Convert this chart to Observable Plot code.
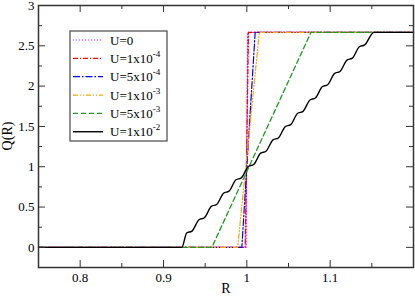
<!DOCTYPE html>
<html><head><meta charset="utf-8">
<script src="https://cdn.jsdelivr.net/npm/d3@7"></script>
<script src="https://cdn.jsdelivr.net/npm/@observablehq/plot@0.6"></script>
<style>body{margin:0;background:#fff}#chart{width:415px;height:296px}
svg text{font-family:"Liberation Serif","Times New Roman","DejaVu Serif",serif !important}</style>
</head><body><div id="chart"></div>
<script>
// ---- data ----
const xDomain = [0.75, 1.2];
const yDomain = [-0.25, 3];
const xTicks = [0.8, 0.9, 1.0, 1.1];
const xMinor = [0.85, 0.95, 1.05, 1.15];
const yTicks = [0, 0.5, 1, 1.5, 2, 2.5, 3];
const yMinor = [0.25, 0.75, 1.25, 1.75, 2.25, 2.75];

const labelBase = ["U=0", "U=1x10", "U=5x10", "U=1x10", "U=5x10", "U=1x10"];
const labelExp  = ["", "-4", "-4", "-3", "-3", "-2"];

const rU0 = [0.75, 0.999, 1.001, 1.2];
const qU0 = [0, 0, 2.667, 2.667];
const rU1 = [0.75, 0.998, 1.002, 1.2];
const qU1 = [0, 0, 2.667, 2.667];
const rU2 = [0.75, 0.994, 1.010, 1.2];
const qU2 = [0, 0, 2.667, 2.667];
const rU3 = [0.75, 0.989, 1.015, 1.2];
const qU3 = [0, 0, 2.667, 2.667];
const rU4 = [0.75, 0.958, 1.077, 1.2];
const qU4 = [0, 0, 2.667, 2.667];
const rU5 = [0.75, 0.922,
  0.9278, 0.9342, 0.9426, 0.949, 0.9574, 0.9638, 0.9722, 0.9786, 0.987, 0.9934,
  1.0018, 1.0082, 1.0166, 1.023, 1.0314, 1.0378, 1.0462, 1.0526, 1.061, 1.0674,
  1.0758, 1.0822, 1.0906, 1.097, 1.1054, 1.1118, 1.1202, 1.1266, 1.135, 1.1414,
  1.1525, 1.2];
const qU5 = [0, 0,
  0.178, 0.202, 0.343, 0.367, 0.508, 0.532, 0.673, 0.697, 0.838, 0.862,
  1.003, 1.027, 1.168, 1.192, 1.333, 1.357, 1.498, 1.522, 1.663, 1.687,
  1.828, 1.852, 1.993, 2.017, 2.158, 2.182, 2.323, 2.347, 2.488, 2.512,
  2.667, 2.667];

// ---- styles ----
const styles = [
  {stroke: "#ff00ff", dash: "1,2", width: 1.2},
  {stroke: "#ff0000", dash: "5,2,1,2", width: 1.2},
  {stroke: "#0000ff", dash: "7,2,1.5,2", width: 1.2},
  {stroke: "#ffa500", dash: "5,2,1,2,1,2", width: 1.2},
  {stroke: "#1f9a1f", dash: "5,3", width: 1.3},
  {stroke: "#000000", dash: null, width: 1.4}
];
const rs = [rU0, rU1, rU2, rU3, rU4, rU5];
const qs = [qU0, qU1, qU2, qU3, qU4, qU5];
const tables = rs.map((r, i) => r.map((x, k) => ({R: x, Q: qs[i][k]})));

const frameColor = "#333";
const serif = "Liberation Serif, Times New Roman, DejaVu Serif, serif";
const lineMarks = tables.map((t, i) => Plot.line(t, {
  x: "R", y: "Q", stroke: styles[i].stroke, strokeWidth: styles[i].width,
  strokeDasharray: styles[i].dash || undefined,
  curve: i === 5 ? "monotone-x" : "linear"
}));

const majX = 0.0084, minX = 0.0048, majY = 0.086, minY = 0.05;

const chart = Plot.plot({
  width: 415, height: 296,
  marginLeft: 38, marginRight: 2, marginTop: 5, marginBottom: 29,
  style: {fontFamily: serif, fontSize: "13px", background: "#fff", color: "#000"},
  x: {domain: xDomain, label: null},
  y: {domain: yDomain, label: null},
  marks: [
    ...lineMarks,
    Plot.ruleX(xTicks, {x: d => d, y1: yDomain[0], y2: yDomain[0] + majY, stroke: frameColor}),
    Plot.ruleX(xTicks, {x: d => d, y1: yDomain[1], y2: yDomain[1] - majY, stroke: frameColor}),
    Plot.ruleX(xMinor, {x: d => d, y1: yDomain[0], y2: yDomain[0] + minY, stroke: frameColor}),
    Plot.ruleX(xMinor, {x: d => d, y1: yDomain[1], y2: yDomain[1] - minY, stroke: frameColor}),
    Plot.ruleY(yTicks, {y: d => d, x1: xDomain[0], x2: xDomain[0] + majX, stroke: frameColor}),
    Plot.ruleY(yTicks, {y: d => d, x1: xDomain[1], x2: xDomain[1] - majX, stroke: frameColor}),
    Plot.ruleY(yMinor, {y: d => d, x1: xDomain[0], x2: xDomain[0] + minX, stroke: frameColor}),
    Plot.ruleY(yMinor, {y: d => d, x1: xDomain[1], x2: xDomain[1] - minX, stroke: frameColor}),
    Plot.frame({stroke: frameColor, strokeWidth: 1.5}),
    Plot.axisX({ticks: xTicks, tickSize: 0, tickPadding: 5, tickFormat: d => String(d), label: null, fontVariant: "normal"}),
    Plot.axisY({ticks: yTicks, tickSize: 0, tickPadding: 4, tickFormat: d => String(d), label: null, fontVariant: "normal"})
  ]
});
document.getElementById("chart").appendChild(chart);

// ---- axis titles and legend ----
const svg = d3.select(chart);
svg.append("text").attr("x", 226).attr("y", 293).attr("text-anchor", "middle")
  .attr("font-family", serif).attr("font-size", 14).text("R");
svg.append("text").attr("transform", "translate(12,136) rotate(-90)").attr("text-anchor", "middle")
  .attr("font-family", serif).attr("font-size", 14).text("Q(R)");

const lg = svg.append("g");
lg.append("rect").attr("x", 70).attr("y", 31).attr("width", 97).attr("height", 110)
  .attr("fill", "#fff").attr("stroke", "#555").attr("stroke-width", 1.3);
labelBase.forEach((b, i) => {
  const yc = 40 + i * 18.35;
  lg.append("line").attr("x1", 73).attr("x2", 103).attr("y1", yc).attr("y2", yc)
    .attr("stroke", styles[i].stroke).attr("stroke-width", styles[i].width)
    .attr("stroke-dasharray", styles[i].dash);
  const t = lg.append("text").attr("x", 110).attr("y", yc + 4.5).attr("text-anchor", "start")
    .attr("font-family", serif).attr("font-size", 13);
  t.append("tspan").text(b);
  if (labelExp[i]) t.append("tspan").attr("dy", -6).attr("font-size", 9).text(labelExp[i]);
});
</script>
</body></html>
